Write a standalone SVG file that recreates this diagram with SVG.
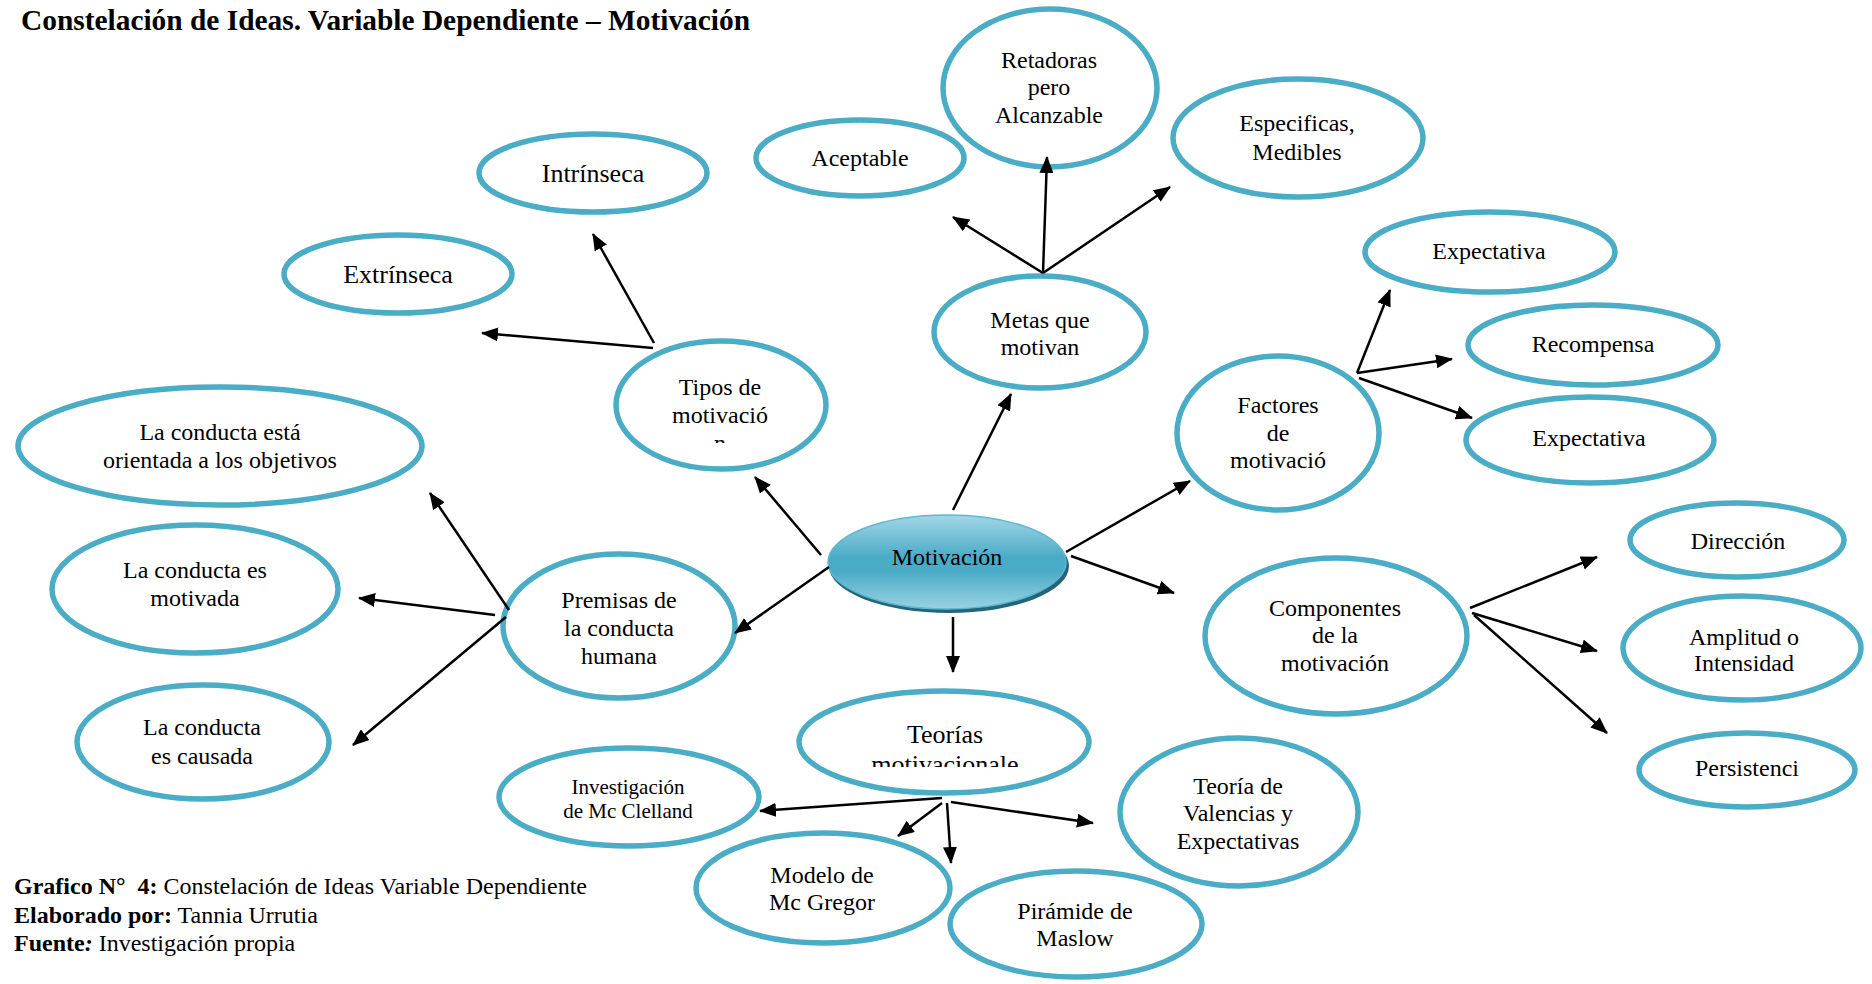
<svg xmlns="http://www.w3.org/2000/svg" width="1872" height="984" viewBox="0 0 1872 984">
<style>
.n{fill:#fff;stroke:#4bacc6;stroke-width:5.5}
.t{font-family:"Liberation Serif","Times New Roman",serif;font-size:24px;text-anchor:middle;fill:#000}
.big{font-size:26px}
.sm{font-size:21px}
.c{stroke:#000;stroke-width:2.5;fill:none;marker-end:url(#ah)}
.cap{font-family:"Liberation Serif","Times New Roman",serif;font-size:24px;fill:#000}
</style>
<defs>
<marker id="ah" markerUnits="userSpaceOnUse" markerWidth="17" markerHeight="14" refX="16" refY="7" orient="auto"><path d="M0,0 L17,7 L0,14 z" fill="#000"/></marker>
<linearGradient id="mg" x1="0" y1="0" x2="0" y2="1">
<stop offset="0" stop-color="#a3d7e6"/>
<stop offset="0.45" stop-color="#4aabc7"/>
<stop offset="0.6" stop-color="#4aabc7"/>
<stop offset="1" stop-color="#9ad3e3"/>
</linearGradient>
<clipPath id="clipTipos"><rect x="600" y="330" width="250" height="113"/></clipPath>
<clipPath id="clipTeo"><rect x="790" y="690" width="310" height="77"/></clipPath>
</defs>
<rect width="1872" height="984" fill="#fff"/>
<text x="21" y="30" style="font-family:'Liberation Serif','Times New Roman',serif;font-size:29.4px;font-weight:bold">Constelación de Ideas. Variable Dependiente – Motivación</text>

<g id="intrinseca"><ellipse class="n" cx="593" cy="173" rx="114" ry="39"/><text class="t big" x="593" y="182">Intrínseca</text></g>
<g id="extrinseca"><ellipse class="n" cx="398" cy="274" rx="114" ry="39"/><text class="t big" x="398" y="283">Extrínseca</text></g>
<g id="aceptable"><ellipse class="n" cx="860" cy="158" rx="104" ry="38"/><text class="t" x="860" y="166">Aceptable</text></g>
<g id="retadoras"><ellipse class="n" cx="1050" cy="88" rx="107" ry="79"/><text class="t" x="1049" y="68">Retadoras</text><text class="t" x="1049" y="95">pero</text><text class="t" x="1049" y="123">Alcanzable</text></g>
<g id="especificas"><ellipse class="n" cx="1298" cy="138" rx="125" ry="59"/><text class="t" x="1297" y="131">Especificas,</text><text class="t" x="1297" y="160">Medibles</text></g>
<g id="expectativa1"><ellipse class="n" cx="1490" cy="252" rx="125" ry="40"/><text class="t" x="1489" y="259">Expectativa</text></g>
<g id="recompensa"><ellipse class="n" cx="1593" cy="345" rx="125" ry="40"/><text class="t" x="1593" y="352">Recompensa</text></g>
<g id="expectativa2"><ellipse class="n" cx="1590" cy="440" rx="124" ry="43"/><text class="t" x="1589" y="446">Expectativa</text></g>
<g id="metas"><ellipse class="n" cx="1040" cy="332" rx="106" ry="56"/><text class="t" x="1040" y="328">Metas que</text><text class="t" x="1040" y="355">motivan</text></g>
<g id="factores"><ellipse class="n" cx="1278" cy="433" rx="101" ry="77"/><text class="t" x="1278" y="413">Factores</text><text class="t" x="1278" y="441">de</text><text class="t" x="1278" y="468">motivació</text></g>
<g id="tipos"><ellipse class="n" cx="721" cy="405" rx="105" ry="64"/><text class="t" x="720" y="395">Tipos de</text><text class="t" x="720" y="423">motivació</text><text class="t" x="720" y="451" clip-path="url(#clipTipos)">n</text></g>
<g id="orientada"><ellipse class="n" cx="220" cy="446" rx="202" ry="59"/><text class="t" x="220" y="440">La conducta está</text><text class="t" x="220" y="468">orientada a los objetivos</text></g>
<g id="motivada"><ellipse class="n" cx="195" cy="589" rx="143" ry="64"/><text class="t" x="195" y="578">La conducta es</text><text class="t" x="195" y="606">motivada</text></g>
<g id="causada"><ellipse class="n" cx="203" cy="742" rx="126" ry="57"/><text class="t" x="202" y="735">La conducta</text><text class="t" x="202" y="764">es causada</text></g>
<g id="premisas"><ellipse class="n" cx="619" cy="626" rx="116" ry="72"/><text class="t" x="619" y="608">Premisas de</text><text class="t" x="619" y="636">la conducta</text><text class="t" x="619" y="664">humana</text></g>
<g id="componentes"><ellipse class="n" cx="1336" cy="636" rx="131" ry="78"/><text class="t" x="1335" y="616">Componentes</text><text class="t" x="1335" y="643">de la</text><text class="t" x="1335" y="671">motivación</text></g>
<g id="direccion"><ellipse class="n" cx="1737" cy="540" rx="107" ry="37"/><text class="t" x="1738" y="549">Dirección</text></g>
<g id="amplitud"><ellipse class="n" cx="1742" cy="648" rx="119" ry="52"/><text class="t" x="1744" y="645">Amplitud o</text><text class="t" x="1744" y="671">Intensidad</text></g>
<g id="persistencia"><ellipse class="n" cx="1747" cy="770" rx="108" ry="37"/><text class="t" x="1747" y="776">Persistenci</text></g>
<g id="teorias"><ellipse class="n" cx="944" cy="742" rx="145" ry="51"/><text class="t big" x="945" y="743">Teorías</text><text class="t big" x="945" y="773" clip-path="url(#clipTeo)">motivacionale</text></g>
<g id="investigacion"><ellipse class="n" cx="629" cy="797" rx="130" ry="49"/><text class="t sm" x="628" y="794">Investigación</text><text class="t sm" x="628" y="818">de Mc Clelland</text></g>
<g id="mcgregor"><ellipse class="n" cx="823" cy="888" rx="127" ry="55"/><text class="t" x="822" y="883">Modelo de</text><text class="t" x="822" y="910">Mc Gregor</text></g>
<g id="maslow"><ellipse class="n" cx="1076" cy="924" rx="126" ry="53"/><text class="t" x="1075" y="919">Pirámide de</text><text class="t" x="1075" y="946">Maslow</text></g>
<g id="valencias"><ellipse class="n" cx="1239" cy="812" rx="119" ry="74"/><text class="t" x="1238" y="794">Teoría de</text><text class="t" x="1238" y="821">Valencias y</text><text class="t" x="1238" y="849">Expectativas</text></g>
<g id="motivacion"><ellipse cx="949" cy="566" rx="120" ry="47" fill="#25657a"/><ellipse cx="947" cy="562" rx="119" ry="47" fill="url(#mg)" stroke="#5fb8cf" stroke-width="1.5"/><text class="t" x="947" y="565">Motivación</text></g>

<g id="connectors">
<line class="c" x1="821" y1="555" x2="755" y2="477"/>
<line class="c" x1="829" y1="567" x2="735" y2="633"/>
<line class="c" x1="953" y1="510" x2="1011" y2="394"/>
<line class="c" x1="953" y1="617" x2="953" y2="672"/>
<line class="c" x1="1066" y1="552" x2="1190" y2="481"/>
<line class="c" x1="1071" y1="556" x2="1174" y2="593"/>
<line class="c" x1="654" y1="343" x2="593" y2="234"/>
<line class="c" x1="653" y1="348" x2="482" y2="333"/>
<line class="c" x1="509" y1="610" x2="430" y2="493"/>
<line class="c" x1="495" y1="615" x2="359" y2="598"/>
<line class="c" x1="506" y1="617" x2="353" y2="745"/>
<line class="c" x1="1043" y1="273" x2="953" y2="217"/>
<line class="c" x1="1043" y1="273" x2="1047" y2="157"/>
<line class="c" x1="1043" y1="273" x2="1170" y2="187"/>
<line class="c" x1="1357" y1="373" x2="1390" y2="290"/>
<line class="c" x1="1357" y1="373" x2="1452" y2="359"/>
<line class="c" x1="1359" y1="378" x2="1472" y2="418"/>
<line class="c" x1="1470" y1="608" x2="1597" y2="557"/>
<line class="c" x1="1472" y1="613" x2="1597" y2="651"/>
<line class="c" x1="1474" y1="615" x2="1607" y2="733"/>
<line class="c" x1="942" y1="798" x2="760" y2="811"/>
<line class="c" x1="942" y1="803" x2="898" y2="836"/>
<line class="c" x1="947" y1="803" x2="951" y2="863"/>
<line class="c" x1="951" y1="802" x2="1093" y2="823"/>
</g>

<g id="caption">
<text class="cap" x="14" y="894"><tspan font-weight="bold">Grafico N°&#160; 4:</tspan> Constelación de Ideas Variable Dependiente</text>
<text class="cap" x="14" y="923"><tspan font-weight="bold">Elaborado por:</tspan> Tannia Urrutia</text>
<text class="cap" x="14" y="951"><tspan font-weight="bold">Fuente</tspan><tspan font-weight="bold" font-style="italic">:</tspan> Investigación propia</text>
</g>
</svg>
